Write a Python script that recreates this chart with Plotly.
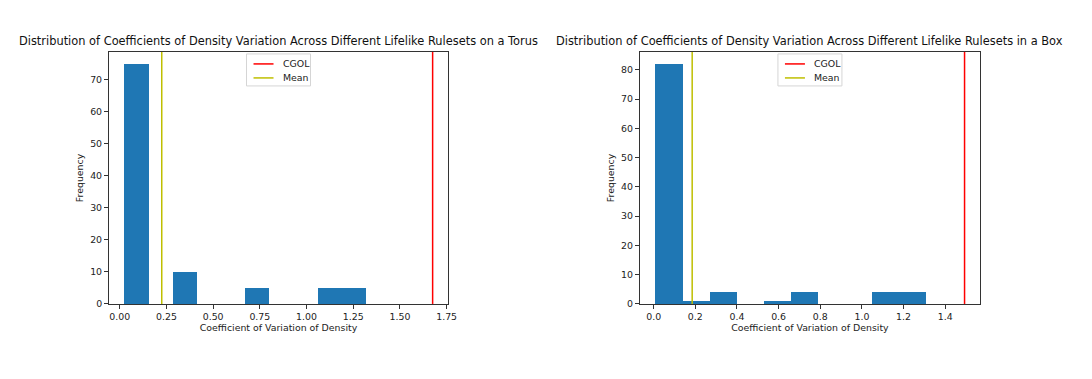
import numpy as np
import plotly.graph_objects as go

# histogram counts (10 bins each)
torus_counts = [75, 0, 10, 0, 0, 5, 0, 0, 5, 5]
torus_bin_range = [0.025, 1.318]
torus_cgol = 1.675
torus_mean = 0.225

box_counts = [82, 1, 4, 0, 1, 4, 0, 0, 4, 4]
box_bin_range = [0.008, 1.309]
box_cgol = 1.493
box_mean = 0.185

torus_title = "Distribution of Coefficients of Density Variation Across Different Lifelike Rulesets on a Torus"
box_title = "Distribution of Coefficients of Density Variation Across Different Lifelike Rulesets in a Box"

legend_names = ["CGOL", "Mean"]
line_colors = ["#ff0000", "#bfbf00"]

FONT = "DejaVu Sans"
BAR_COLOR = "#1f77b4"
W, H = 1092, 379
YDOM = [0.198, 0.863]

fig = go.Figure()


def add_legend(xdom):
    # small matplotlib-like legend box, upper centre of the axes
    cx = (xdom[0] + xdom[1]) / 2 * W
    top = (1 - YDOM[1]) * H + 2
    bw, bh = 64, 32
    x0, y0 = cx - bw / 2, top
    fig.add_shape(type="rect", xref="paper", yref="paper",
                  x0=x0 / W, x1=(x0 + bw) / W, y0=1 - y0 / H, y1=1 - (y0 + bh) / H,
                  line=dict(color="#d5d5d5", width=1), fillcolor="rgba(255,255,255,0.8)")
    for i, (name, col) in enumerate(zip(legend_names, line_colors)):
        yy = 1 - (y0 + 10 + i * 14) / H
        fig.add_shape(type="line", xref="paper", yref="paper",
                      x0=(x0 + 7) / W, x1=(x0 + 27) / W, y0=yy, y1=yy,
                      line=dict(color=col, width=1.5))
        fig.add_annotation(text=name, xref="paper", yref="paper",
                           x=(x0 + 34) / W, y=yy, xanchor="left", yanchor="middle",
                           showarrow=False, font=dict(family=FONT, size=9.4, color="#222"))


def add_panel(n, counts, bin_range, cgol, mean, title, xdom, xrange, xticks, xfmt, yticks):
    xa = "x" if n == 1 else f"x{n}"
    ya = "y" if n == 1 else f"y{n}"
    edges = np.linspace(bin_range[0], bin_range[1], len(counts) + 1)
    centers = (edges[:-1] + edges[1:]) / 2
    width = edges[1] - edges[0]
    fig.add_trace(go.Bar(
        x=centers, y=counts, width=width,
        marker=dict(color=BAR_COLOR, line=dict(width=0)),
        xaxis=xa, yaxis=ya, showlegend=False,
    ))
    for val, col in zip([cgol, mean], line_colors):
        fig.add_shape(
            type="line", x0=val, x1=val, y0=0, y1=1,
            xref=xa, yref=f"{ya} domain",
            line=dict(color=col, width=1.5),
        )
    ytop = max(counts) * 1.05
    axis_common = dict(
        showline=True, linecolor="#333", linewidth=1, mirror=True,
        showgrid=False, zeroline=False, ticks="outside", ticklen=4,
        tickcolor="#333", tickfont=dict(family=FONT, size=9.4, color="#222"),
        automargin=False,
    )
    fig.layout[xa.replace("x", "xaxis")] = dict(
        domain=xdom, anchor=ya, range=xrange, tickvals=xticks, tickformat=xfmt,
        title=dict(text="Coefficient of Variation of Density",
                   font=dict(family=FONT, size=9.4, color="#222"), standoff=2),
        **axis_common,
    )
    fig.layout[ya.replace("y", "yaxis")] = dict(
        domain=YDOM, anchor=xa, range=[0, ytop], tickvals=yticks,
        title=dict(text="Frequency", font=dict(family=FONT, size=9.4, color="#222"), standoff=4),
        **axis_common,
    )
    fig.add_annotation(
        text=title, x=(xdom[0] + xdom[1]) / 2, y=YDOM[1] + 0.005, xref="paper", yref="paper",
        xanchor="center", yanchor="bottom", showarrow=False,
        font=dict(family=FONT, size=11.4, color="#111"),
    )
    add_legend(xdom)


add_panel(1, torus_counts, torus_bin_range, torus_cgol, torus_mean, torus_title,
          [0.0998, 0.4103], [-0.0575, 1.7575],
          [0, 0.25, 0.5, 0.75, 1.0, 1.25, 1.5, 1.75], ".2f",
          [0, 10, 20, 30, 40, 50, 60, 70])
add_panel(2, box_counts, box_bin_range, box_cgol, box_mean, box_title,
          [0.586, 0.8974], [-0.066, 1.567],
          [0, 0.2, 0.4, 0.6, 0.8, 1.0, 1.2, 1.4], ".1f",
          [0, 10, 20, 30, 40, 50, 60, 70, 80])

fig.update_layout(
    width=W, height=H,
    margin=dict(l=0, r=0, t=0, b=0),
    paper_bgcolor="white", plot_bgcolor="white",
    bargap=0, showlegend=False,
)

# drop the default 8px page margin so the figure sits at the window origin
fig.write_html("out.html", config={"displayModeBar": False},
               post_script="document.body.style.margin='0';")
